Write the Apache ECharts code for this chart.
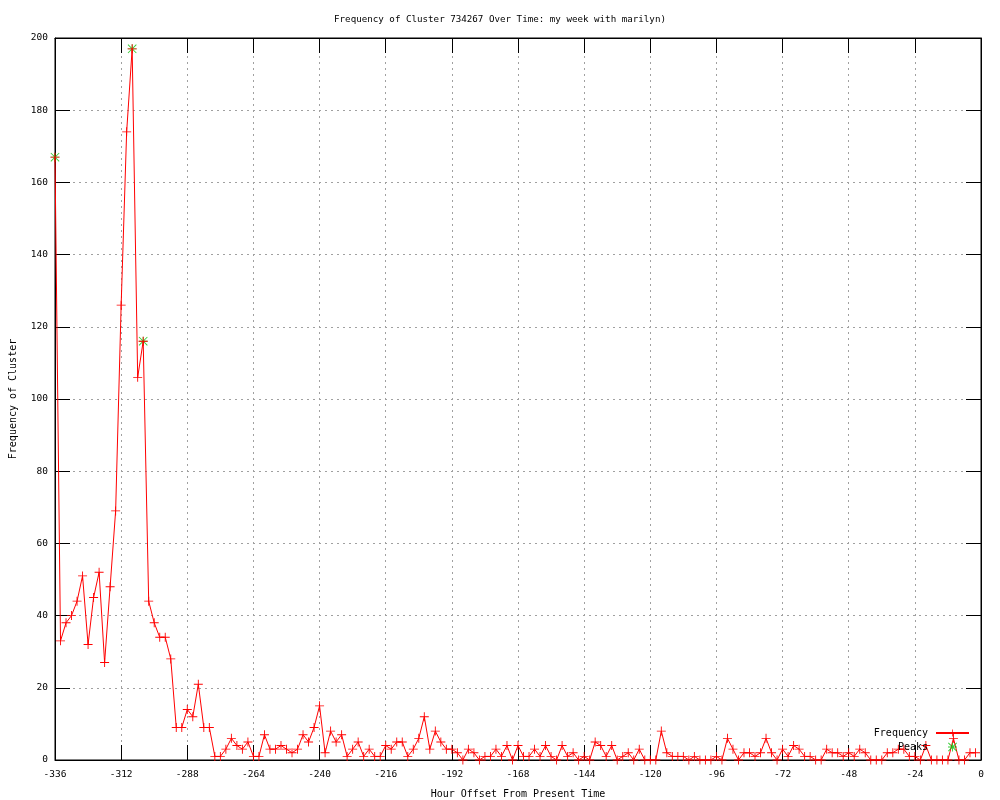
<!DOCTYPE html>
<html>
<head>
<meta charset="utf-8">
<script src="https://cdn.jsdelivr.net/npm/echarts@6/dist/echarts.min.js"></script>
<style>html,body{margin:0;padding:0;background:#fff}#c{width:1000px;height:800px}</style>
</head>
<body>
<div id="c"></div>
<script>
const titleText = 'Frequency of Cluster 734267 Over Time: my week with marilyn)';
const xName = 'Hour Offset From Present Time';
const yName = 'Frequency of Cluster';

const hourOffsets = [
  -336,-334,-332,-330,-328,-326,-324,-322,-320,-318,-316,-314,
  -312,-310,-308,-306,-304,-302,-300,-298,-296,-294,-292,-290,
  -288,-286,-284,-282,-280,-278,-276,-274,-272,-270,-268,-266,
  -264,-262,-260,-258,-256,-254,-252,-250,-248,-246,-244,-242,
  -240,-238,-236,-234,-232,-230,-228,-226,-224,-222,-220,-218,
  -216,-214,-212,-210,-208,-206,-204,-202,-200,-198,-196,-194,
  -192,-190,-188,-186,-184,-182,-180,-178,-176,-174,-172,-170,
  -168,-166,-164,-162,-160,-158,-156,-154,-152,-150,-148,-146,
  -144,-142,-140,-138,-136,-134,-132,-130,-128,-126,-124,-122,
  -120,-118,-116,-114,-112,-110,-108,-106,-104,-102,-100,-98,
  -96,-94,-92,-90,-88,-86,-84,-82,-80,-78,-76,-74,
  -72,-70,-68,-66,-64,-62,-60,-58,-56,-54,-52,-50,
  -48,-46,-44,-42,-40,-38,-36,-34,-32,-30,-28,-26,
  -24,-22,-20,-18,-16,-14,-12,-10,-8,-6,-4,-2
];
const frequency = [
  167,33,38,40,44,51,32,45,52,27,48,69,
  126,174,197,106,116,44,38,34,34,28,9,9,
  14,12,21,9,9,1,1,3,6,4,3,5,
  1,1,7,3,3,4,3,2,3,7,5,9,
  15,2,8,5,7,1,3,5,1,3,1,1,
  4,3,5,5,1,3,6,12,3,8,5,3,
  3,2,0,3,2,0,1,1,3,1,4,0,
  4,1,1,3,1,4,1,0,4,1,2,0,
  1,0,5,4,1,4,0,1,2,0,3,0,
  0,0,8,2,1,1,1,0,1,0,0,0,
  1,0,6,3,0,2,2,1,2,6,2,0,
  3,1,4,3,1,1,0,0,3,2,2,1,
  2,1,3,2,0,0,0,2,2,3,3,1,
  1,0,4,0,0,0,0,6,0,0,2,2
];
const peakHours = [-336, -308, -304];
const peakValues = [167, 197, 116];

const xMin = -336, xMax = 0, xStep = 24;
const yMin = 0, yMax = 200, yStep = 20;

const freqData = hourOffsets.map((h, i) => [h, frequency[i]]);
const peakData = peakHours.map((h, i) => [h, peakValues[i]]);

const FONT = 'DejaVu Sans Mono';
const plusSym = 'path://M0,4.5L10,4.5L10,5.5L0,5.5Z M4.5,0L5.5,0L5.5,10L4.5,10Z';
const starSym = 'path://M0,4.5L10,4.5L10,5.5L0,5.5Z M4.5,0L5.5,0L5.5,10L4.5,10Z M0,0.7L0.7,0L10,9.3L9.3,10Z M9.3,0L10,0.7L0.7,10L0,9.3Z';

const tickCommon = { show: true, inside: true, length: 15, lineStyle: { color: '#000', width: 1 } };

const chart = echarts.init(document.getElementById('c'), null, { renderer: 'canvas' });
chart.setOption({
  backgroundColor: '#fff',
  animation: false,
  title: {
    text: titleText, left: 'center', top: 10,
    textStyle: { fontFamily: FONT, fontSize: 9.2, fontWeight: 'normal', color: '#000' }
  },
  legend: {
    orient: 'vertical', right: 30, top: 727, align: 'right', padding: 0,
    itemWidth: 33, itemHeight: 9, itemGap: 2,
    textStyle: { fontFamily: FONT, fontSize: 10, color: '#000', lineHeight: 12, padding: [0, 3, 0, 0] },
    data: ['Frequency', 'Peaks']
  },
  grid: { left: 55, right: 19, top: 38, bottom: 40, outerBoundsMode: 'none', containLabel: false, show: true, borderColor: '#000', borderWidth: 1, backgroundColor: 'transparent' },
  xAxis: [{
    type: 'value', min: xMin, max: xMax, interval: xStep,
    name: xName, nameLocation: 'middle', nameGap: 29,
    nameTextStyle: { fontFamily: FONT, fontSize: 10, color: '#000' },
    axisLine: { show: true, onZero: false, lineStyle: { color: '#000' } },
    axisTick: tickCommon,
    axisLabel: { fontFamily: FONT, fontSize: 9.5, color: '#000', margin: 10 },
    splitLine: { show: true, lineStyle: { color: '#a0a0a0', type: [2, 4], width: 1 } }
  }, {
    type: 'value', position: 'top', min: xMin, max: xMax, interval: xStep,
    axisLine: { show: true, onZero: false, lineStyle: { color: '#000' } },
    axisTick: tickCommon, axisLabel: { show: false }, splitLine: { show: false }
  }],
  yAxis: [{
    type: 'value', min: yMin, max: yMax, interval: yStep,
    name: yName, nameLocation: 'middle', nameGap: 37,
    nameTextStyle: { fontFamily: FONT, fontSize: 10, color: '#000' },
    axisLine: { show: true, onZero: false, lineStyle: { color: '#000' } },
    axisTick: tickCommon,
    axisLabel: { fontFamily: FONT, fontSize: 9.5, color: '#000', margin: 7 },
    splitLine: { show: true, lineStyle: { color: '#a0a0a0', type: [2, 4], width: 1 } }
  }, {
    type: 'value', position: 'right', min: yMin, max: yMax, interval: yStep,
    axisLine: { show: true, onZero: false, lineStyle: { color: '#000' } },
    axisTick: tickCommon, axisLabel: { show: false }, splitLine: { show: false }
  }],
  series: [{
    name: 'Peaks', type: 'scatter', data: peakData,
    symbol: starSym, symbolSize: 9, symbolKeepAspect: true,
    itemStyle: { color: '#00c000', borderWidth: 0 }, z: 2
  }, {
    name: 'Frequency', type: 'line', data: freqData,
    symbol: plusSym, symbolSize: 9, showSymbol: true, symbolKeepAspect: true,
    lineStyle: { color: '#ff0000', width: 1 },
    itemStyle: { color: '#ff0000', borderWidth: 0 }, z: 3
  }]
});
</script>
</body>
</html>
